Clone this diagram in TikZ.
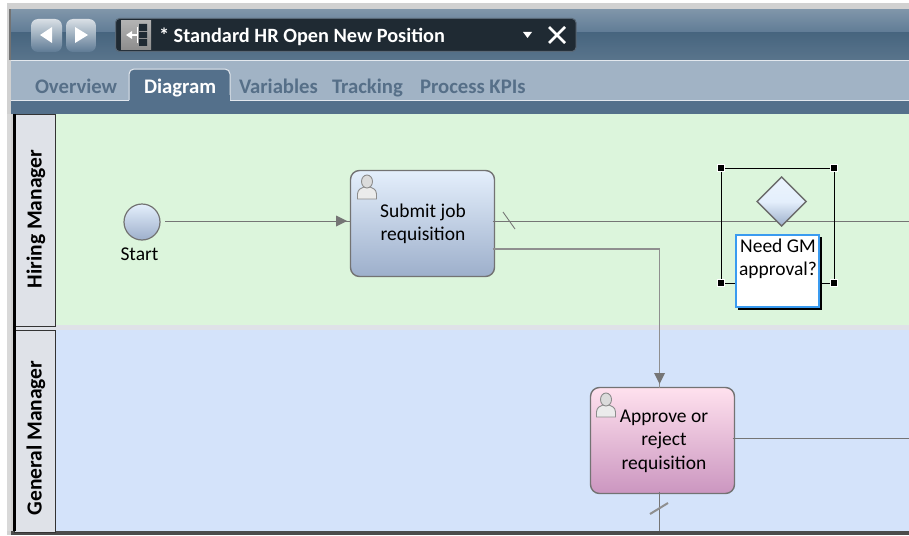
\documentclass[tikz,border=0pt]{standalone}
\usepackage{fontspec}
\setmainfont{Carlito}
\usetikzlibrary{shapes.geometric,arrows.meta,calc}
\definecolor{barTop}{HTML}{7F95A9}
\definecolor{barMid}{HTML}{5F7B95}
\definecolor{barLow}{HTML}{47657F}
\definecolor{tabBar}{HTML}{A1B3C5}
\definecolor{tabBand}{HTML}{54708B}
\definecolor{tabText}{HTML}{566F88}
\definecolor{greenLane}{HTML}{DCF5DC}
\definecolor{blueLane}{HTML}{D4E3FA}
\definecolor{laneHead}{HTML}{DFE2E8}
\definecolor{flow}{HTML}{757575}
\definecolor{flowLight}{HTML}{8F8F8F}
\definecolor{edge}{HTML}{737373}
\definecolor{blueTop}{HTML}{E4EFFC}
\definecolor{blueBot}{HTML}{9DAFCB}
\definecolor{pinkTop}{HTML}{FFE1EE}
\definecolor{pinkBot}{HTML}{CB96C0}
\definecolor{editBlue}{HTML}{3A9BF0}
\definecolor{fieldDark}{HTML}{1F2A33}
\tikzset{
  x=1pt,y=1pt,
  every node/.style={inner sep=0pt,outer sep=0pt,font=\fontsize{19.5}{23.5}\selectfont,align=center,text=black},
  task/.style={draw=edge,line width=1.4pt,rounded corners=9pt,minimum width=144pt,minimum height=106pt},
  flowline/.style={draw=flow,line width=.9pt},
  heavyline/.style={draw=flowLight,line width=1.5pt},
  handle/.style={fill=black,draw=white,line width=.5pt,minimum size=7pt},
  lanehead/.style={fill=laneHead,draw=black!80,line width=1pt,minimum width=41pt},
  lanelabel/.style={rotate=90,font=\fontsize{21.5}{23}\selectfont\bfseries},
  tabtext/.style={font=\fontsize{20.7}{22}\selectfont\bfseries,text=tabText,anchor=base west},
}
\newcommand{\personicon}[2]{%
  \fill[white!92!black,draw=black!45,line width=.9pt] (#1-9.5,#2-13) -- (#1-9.5,#2-8) .. controls (#1-9.5,#2-3) and (#1-5,#2-2) .. (#1-3,#2-1) -- (#1+3,#2-1) .. controls (#1+5,#2-2) and (#1+9.5,#2-3) .. (#1+9.5,#2-8) -- (#1+9.5,#2-13) -- cycle;
  \fill[black!14,draw=black!45,line width=.9pt] (#1,#2+4.5) ellipse (5.5pt and 6.5pt);
}
\begin{document}
\begin{tikzpicture}
\useasboundingbox (0,0) rectangle (909,-535);
\fill[white] (0,0) rectangle (909,-535);
% frame
\fill[black!18] (7,-3) rectangle (909,-535);
% title bar
\fill[black!55] (9,-9) rectangle (909,-60);
\shade[top color=barTop,bottom color=barMid] (11,-10) rectangle (909,-33);
\shade[top color=barLow,bottom color=barLow!90!white] (11,-33) rectangle (909,-60);
\fill[tabBar] (11,-60) rectangle (909,-100);
\fill[tabBand] (11,-100) rectangle (909,-114);
\draw[white!70!tabBar,line width=.8pt] (11,-60.5) -- (909,-60.5);
\draw[white!70!tabBar,line width=.8pt] (11,-100) -- (129,-100) (230,-100) -- (909,-100);
% nav buttons
\shade[rounded corners=7pt,top color=white!70!barTop,bottom color=barMid] (31,-19) rectangle (62,-52);
\shade[rounded corners=7pt,top color=white!70!barTop,bottom color=barMid] (66,-19) rectangle (96,-52);
\fill[white] (40,-35) -- (52,-27) -- (52,-43) -- cycle;
\fill[white] (75,-27) -- (88,-35) -- (75,-43) -- cycle;
% title field
\fill[rounded corners=4pt,fill=fieldDark,draw=black!30!barTop,line width=1pt] (115.5,-18.5) rectangle (576,-51.5);
\shade[top color=black!30,bottom color=black!45] (121,-21) rectangle (151,-50);
\fill[white] (126,-35) -- (132,-31) -- (132,-39) -- cycle;
\fill[white] (132,-34) rectangle (137,-36);
\draw[white,line width=1pt] (137,-27) -- (137,-43);
\fill[fieldDark] (139,-24) rectangle (147,-31) (139,-32) rectangle (147,-38) (139,-39) rectangle (147,-46);
\node[anchor=base west,text=white,font=\fontsize{20.3}{22}\selectfont\bfseries] (title) at (159,-42) {* Standard HR Open New Position};
\fill[white] (523,-32) -- (532,-32) -- (527.5,-38) -- cycle;
\draw[white,line width=2.6pt] (549,-27) -- (565,-43) (565,-27) -- (549,-43);
% tabs
\path[fill=tabBand,draw=white!70!tabBar,line width=1pt,rounded corners=5pt] (129,-100) -- (129,-69) -- (230,-69) -- (230,-100);
\fill[tabBand] (129.5,-95) rectangle (229.5,-101);
\node[tabtext] (tabo) at (35,-93) {Overview};
\node[tabtext,text=white] (tabd) at (144,-93) {Diagram};
\node[tabtext] (tabv) at (239,-93) {Variables};
\node[tabtext] (tabt) at (332,-93) {Tracking};
\node[tabtext] (tabp) at (420,-93) {Process KPIs};
% lanes
\fill[greenLane] (56,-114) rectangle (909,-325);
\fill[laneHead] (14,-325) rectangle (909,-330);
\fill[blueLane] (56,-330) rectangle (909,-531);
\fill[black!70] (11,-531) rectangle (909,-535);
\fill[white!85!black] (7,-114) rectangle (11,-531);
\node[lanehead,minimum height=212pt,anchor=north west] (lane1) at (14.5,-114) {};
\node[lanehead,minimum height=202pt,anchor=north west] (lane2) at (14.5,-330) {};
\fill[black] (13,-114) rectangle (15.5,-531);
\node[lanelabel] at (36,-219) {Hiring Manager};
\node[lanelabel] at (36,-438) {General Manager};
% elements
\node[circle,draw=edge,line width=1.2pt,minimum size=36pt,top color=blueTop,bottom color=blueBot] (start) at (142,-222) {};
\node (startl) at (139.5,-254) {Start};
\node[task,top color=blueTop,bottom color=blueBot] (submit) at (422.5,-223.5) {};
\personicon{367}{-186}
\node at (423,-224) {Submit job\\requisition};
\node[task,top color=pinkTop,bottom color=pinkBot] (approve) at (662.5,-440.5) {};
\personicon{606}{-404}
\node at (664,-441) {Approve or\\reject\\requisition};
% connector end points
\coordinate (rightA) at (909,-221);
\coordinate (rightB) at (909,-438);
\coordinate (bottomB) at (659.5,-531);
\coordinate (elbow) at (659.5,-249);
\coordinate (p1) at ($(submit.east |- 0,-249)$);
\coordinate (arrowA) at (347,-221);
\coordinate (arrowB) at (659.5,-384);
% connectors
\draw[flowline] ($(start.east |- arrowA)+(5,0)$) -- (submit.west |- arrowA);
\fill[flow] (arrowA) -- ++(-11,5.5) -- ++(0,-11) -- cycle;
\draw[flowline] ($(submit.east |- rightA)+(-2,0)$) -- (rightA);
\draw[heavyline] ($(p1)+(-2,0)$) -- (elbow) -- (elbow |- approve.north);
\fill[flow] (arrowB) -- ++(-5.5,11) -- ++(11,0) -- cycle;
\draw[flowline] ($(approve.east |- rightB)+(-2,0)$) -- (rightB);
\draw[flowline] ($(approve.south -| bottomB)+(0,2)$) -- (bottomB);
\draw[flow,line width=.9pt] (503,-212) -- (515,-229);
\draw[flowLight,line width=2pt] (650,-514) -- (668,-503);
% gateway
\node[diamond,aspect=1,draw=black!58,line width=1.4pt,minimum size=49pt,top color=blueTop!70!white,bottom color=blueBot,middle color=blueTop] (gw) at (781.5,-201.5) {};
% selection
\node[minimum width=113pt,minimum height=115pt,draw=black,line width=.9pt,anchor=north west] (sel) at (721,-168) {};
\node[handle] (h1) at (sel.north west) {};
\node[handle] (h2) at (sel.north east) {};
\node[handle] (h3) at (sel.south west) {};
\node[handle] (h4) at (sel.south east) {};
\fill[black] (738,-237) rectangle (822,-310);
\node[draw=editBlue,fill=white,line width=1.4pt,minimum width=83pt,minimum height=72pt,anchor=north west] (edit) at (736,-235) {};
\node[anchor=north] at (778,-238.5) {Need GM\\approval?};
\end{tikzpicture}
\end{document}
